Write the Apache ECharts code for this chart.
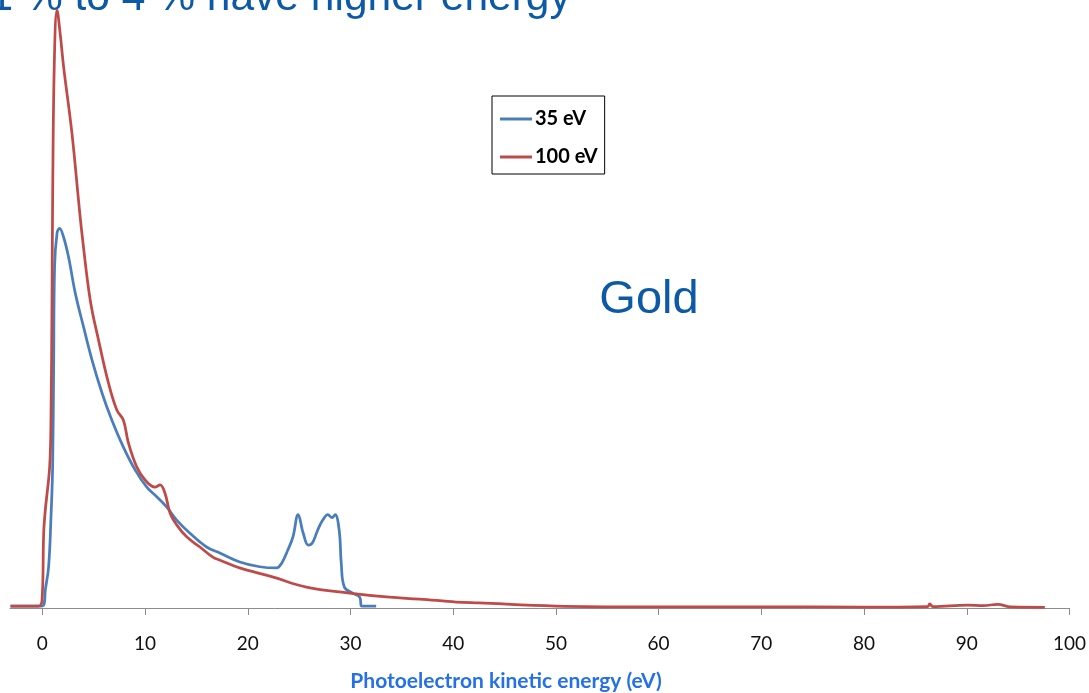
<!DOCTYPE html>
<html>
<head>
<meta charset="utf-8">
<title>Gold photoelectron spectra</title>
<script src="https://cdn.jsdelivr.net/npm/echarts@6/dist/echarts.min.js"></script>
<style>
  html, body { margin: 0; padding: 0; background: #ffffff; }
  #chart { width: 1089px; height: 693px; }
</style>
</head>
<body>
<div id="chart"></div>
<script>
// Photoelectron kinetic energy (eV) and relative counts, 35 eV excitation
const energy35 = [-3.1, -0.4, 0.13, 0.29, 0.61, 0.84, 1.0, 1.1, 1.19, 1.43, 1.68, 2.07, 2.55, 3.2, 4.01, 4.83, 5.8, 6.77, 7.89, 9.03, 10.17, 11.14, 12.1, 13.08, 14.37, 15.99, 17.28, 19.22, 21.17, 22.8, 23.3, 23.9, 24.4, 24.9, 25.4, 25.9, 26.3, 26.8, 27.3, 27.8, 28.2, 28.5, 28.9, 29.1, 29.4, 30.2, 30.9, 31.1, 32.5];
const counts35 = [0.3, 0.3, 0.5, 3.0, 6.9, 15.2, 23.6, 40.3, 57.0, 62.7, 63.5, 62.0, 58.7, 52.7, 47.0, 41.5, 36.0, 31.4, 26.9, 23.1, 20.2, 18.6, 16.9, 14.7, 12.5, 10.2, 9.2, 7.7, 6.9, 6.7, 7.5, 9.7, 11.9, 15.6, 12.5, 10.5, 10.9, 13.0, 14.7, 15.6, 15.1, 15.6, 13.0, 7.5, 3.5, 2.5, 1.8, 0.3, 0.3];

// Same axis, 100 eV excitation
const energy100 = [-3.1, -0.4, -0.03, 0.13, 0.29, 0.71, 0.84, 0.94, 1.0, 1.17, 1.43, 1.75, 2.07, 2.88, 3.52, 3.85, 4.66, 5.47, 6.44, 7.25, 7.89, 8.38, 9.19, 10.0, 10.97, 11.46, 11.94, 12.43, 13.08, 14.05, 15.34, 16.6, 17.3, 19.2, 22.4, 25.7, 29.9, 33.8, 36.7, 40.3, 42.5, 50.0, 58.7, 70.0, 80.0, 86.2, 86.4, 86.7, 90.1, 91.6, 93.0, 94.3, 97.6];
const counts100 = [0.3, 0.3, 1.3, 12.5, 16.4, 23.6, 31.9, 51.5, 68.2, 91.6, 100, 95.8, 90.5, 79.4, 68.2, 62.7, 51.5, 44.8, 37.6, 33.1, 31.4, 27.6, 23.6, 21.4, 20.2, 20.6, 19.2, 15.9, 13.9, 11.9, 10.2, 8.5, 8.0, 6.7, 5.2, 3.5, 2.5, 1.8, 1.5, 1.0, 0.84, 0.33, 0.2, 0.2, 0.15, 0.25, 0.67, 0.25, 0.5, 0.4, 0.6, 0.17, 0.12];

const seriesNames = ['35 eV', '100 eV'];
const tickValues = [0, 10, 20, 30, 40, 50, 60, 70, 80, 90, 100];

const titleText = '1 % to 4 % have higher energy';
const elementText = 'Gold';
const axisTitle = 'Photoelectron kinetic energy (eV)';

const pairs = (xs, ys) => xs.map((x, i) => [x, ys[i]]);

const chart = echarts.init(document.getElementById('chart'), null, { renderer: 'canvas' });

chart.setOption({
  backgroundColor: '#ffffff',
  animation: false,
  grid: { left: 10, right: 16, top: 10, bottom: 85, containLabel: false },
  xAxis: {
    type: 'value',
    min: -3.15,
    max: 100,
    axisLine: { onZero: false, lineStyle: { color: '#8c8c8c', width: 1 } },
    axisTick: { show: true, length: 7, customValues: tickValues, lineStyle: { color: '#8c8c8c' } },
    axisLabel: {
      customValues: tickValues,
      margin: 26,
      color: '#111111',
      fontFamily: 'Lato',
      fontSize: 19
    },
    splitLine: { show: false }
  },
  yAxis: {
    type: 'value',
    min: 0,
    max: 100,
    show: false
  },
  legend: {
    data: seriesNames,
    orient: 'vertical',
    left: 492,
    top: 96,
    padding: [13, 7, 7, 8],
    itemGap: 18,
    itemWidth: 32,
    itemHeight: 3,
    icon: 'rect',
    borderColor: '#000000',
    borderWidth: 1,
    textStyle: { fontFamily: 'Lato', fontWeight: 'bold', fontSize: 20, color: '#000000', padding: [0, 0, 0, -2] }
  },
  graphic: [
    {
      type: 'text', x: -10.5, y: -1.7,
      style: { text: titleText, font: '42.5px "Liberation Sans", Arial, sans-serif', fill: '#0c5aa6', align: 'left', verticalAlign: 'middle' }
    },
    {
      type: 'text', x: 649, y: 299.7,
      style: { text: elementText, font: '47px "Liberation Sans", Arial, sans-serif', fill: '#0c5aa6', align: 'center', verticalAlign: 'middle' }
    },
    {
      type: 'text', x: 506, y: 681,
      style: { text: axisTitle, font: 'bold 21px Lato, sans-serif', fill: '#2470e8', align: 'center', verticalAlign: 'middle' }
    }
  ],
  series: [
    {
      name: seriesNames[0],
      type: 'line',
      data: pairs(energy35, counts35),
      symbol: 'none',
      smooth: 0.4,
      lineStyle: { color: '#4a7ebb', width: 2.75 },
      itemStyle: { color: '#4a7ebb' },
      z: 3
    },
    {
      name: seriesNames[1],
      type: 'line',
      data: pairs(energy100, counts100),
      symbol: 'none',
      smooth: 0.4,
      lineStyle: { color: '#be4b48', width: 2.75 },
      itemStyle: { color: '#be4b48' },
      z: 4
    }
  ]
});
</script>
</body>
</html>
